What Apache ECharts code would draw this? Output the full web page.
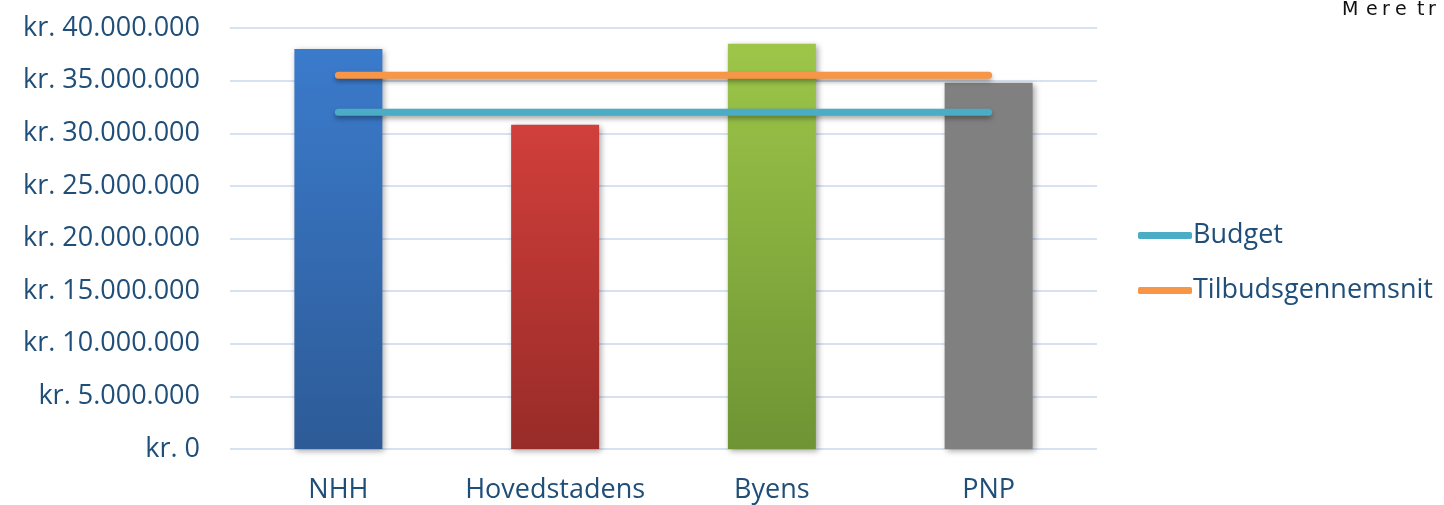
<!DOCTYPE html>
<html><head><meta charset="utf-8">
<script src="https://cdn.jsdelivr.net/npm/echarts@6/dist/echarts.min.js"></script>
<style>html,body{margin:0;padding:0;background:#fff}#c{width:1444px;height:505px}</style>
</head><body><div id="c"></div>
<script>
const categories = ['NHH', 'Hovedstadens', 'Byens', 'PNP'];
const offerValues = [38000000, 30800000, 38500000, 34800000];
const budgetValues = [32000000, 32000000, 32000000, 32000000];
const averageValues = [35500000, 35500000, 35500000, 35500000];
const yTicks = { min: 0, max: 40000000, interval: 5000000 };

const barGradients = [
  ['#3B7BCC', '#2D5B97'],
  ['#D13F3B', '#982B28'],
  ['#9DC649', '#6E9434'],
  ['#808080', '#808080']
];
const font = 'Open Sans';
const txt = '#1F4E79';
const fmt = v => 'kr. ' + String(v).replace(/\B(?=(\d{3})+(?!\d))/g, '.');
const cornerChars = [['M', 1342], ['e', 1366], ['r', 1382], ['e', 1395], ['t', 1417], ['r', 1428]];

const chart = echarts.init(document.getElementById('c'), null, {renderer: 'canvas'});
chart.setOption({
  animation: false,
  title: cornerChars.map(([t, x]) => ({
    text: t, left: x, top: 1, padding: 0,
    textStyle: { color: '#111', fontSize: 19, fontWeight: 'normal', fontFamily: 'DejaVu Sans' }
  })),
  grid: { left: 230, right: 347, top: 28, bottom: 56 },
  legend: {
    orient: 'vertical', left: 1133, top: 217,
    data: [{ name: 'Budget', icon: 'roundRect' }, { name: 'Tilbudsgennemsnit', icon: 'roundRect' }],
    itemWidth: 54, itemHeight: 7, itemGap: 28,
    textStyle: { color: txt, fontSize: 27, fontFamily: font, padding: [0, 0, 0, -4] }
  },
  xAxis: {
    type: 'category', data: categories,
    axisLine: { show: false }, axisTick: { show: false },
    axisLabel: { color: txt, fontSize: 27, fontFamily: font, margin: 28, interval: 0 }
  },
  yAxis: {
    type: 'value', min: yTicks.min, max: yTicks.max, interval: yTicks.interval,
    axisLabel: { color: txt, fontSize: 27, fontFamily: font, margin: 30, formatter: fmt },
    splitLine: { lineStyle: { color: '#D6E2F2', width: 2 } },
    axisLine: { show: false }, axisTick: { show: false }
  },
  series: [
    {
      name: 'Tilbud', type: 'bar', barWidth: 88,
      data: offerValues.map((v, i) => ({
        value: v,
        itemStyle: {
          color: new echarts.graphic.LinearGradient(0, 0, 0, 1, [
            { offset: 0, color: barGradients[i][0] }, { offset: 1, color: barGradients[i][1] }]),
          shadowColor: 'rgba(0,0,0,0.35)', shadowBlur: 6, shadowOffsetX: 2, shadowOffsetY: 2
        }
      }))
    },
    {
      name: 'Budget', type: 'line', data: budgetValues, symbol: 'none',
      itemStyle: { color: '#4BACC6' },
      lineStyle: { color: '#4BACC6', width: 7, cap: 'round', shadowColor: 'rgba(0,0,0,0.35)', shadowBlur: 5, shadowOffsetY: 3 }
    },
    {
      name: 'Tilbudsgennemsnit', type: 'line', data: averageValues, symbol: 'none',
      itemStyle: { color: '#F79646' },
      lineStyle: { color: '#F79646', width: 7, cap: 'round', shadowColor: 'rgba(0,0,0,0.35)', shadowBlur: 5, shadowOffsetY: 3 }
    }
  ]
});
</script></body></html>
